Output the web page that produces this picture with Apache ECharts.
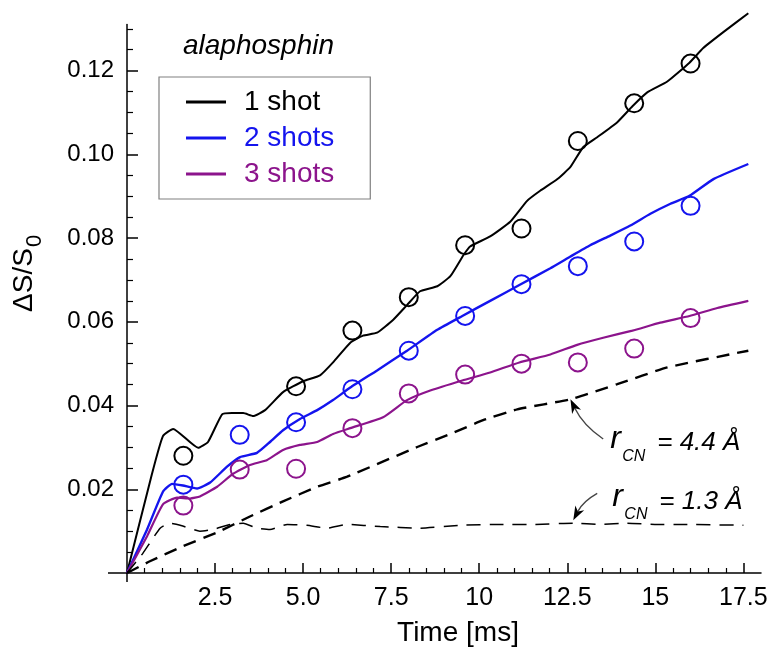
<!DOCTYPE html>
<html><head><meta charset="utf-8">
<script src="https://cdn.jsdelivr.net/npm/echarts@6/dist/echarts.min.js"></script>
<style>html,body{margin:0;padding:0;background:#fff}#c{width:771px;height:652px}</style>
</head><body><div id="c"></div>
<script>
// ---------------- data ----------------
const shotTimes = [1.6, 3.2, 4.8, 6.4, 8.0, 9.6, 11.2, 12.8, 14.4, 16.0];
const shot1Pts = [0.0280, null, 0.0446, 0.0579, 0.0659, 0.0783, 0.0823, 0.1032, 0.1122, 0.1217];
const shot2Pts = [0.0211, 0.0330, 0.0360, 0.0439, 0.0531, 0.0614, 0.0690, 0.0733, 0.0792, 0.0877];
const shot3Pts = [0.0161, 0.0247, 0.0249, 0.0346, 0.0429, 0.0474, 0.0500, 0.0503, 0.0536, 0.0609];

const fit1T = [0, 0.71, 1.02, 1.31, 2.02, 2.30, 2.70, 2.98, 3.30, 3.58, 3.92, 4.43, 5.0, 5.48, 5.85, 6.34, 6.70, 7.10, 7.56, 7.95, 8.32, 8.81, 9.18, 9.55, 9.74, 10.31, 10.88, 11.36, 11.73, 12.22, 12.59, 12.95, 13.35, 13.92, 14.35, 14.77, 15.34, 15.97, 16.36, 16.93, 17.64];
const fit1V = [0, 0.0237, 0.0327, 0.0344, 0.0299, 0.0313, 0.0379, 0.0382, 0.0382, 0.0375, 0.0389, 0.0432, 0.0458, 0.0472, 0.0503, 0.0550, 0.0567, 0.0574, 0.0605, 0.0640, 0.0673, 0.0685, 0.0709, 0.0759, 0.0780, 0.0804, 0.0839, 0.0889, 0.0913, 0.0941, 0.0970, 0.1017, 0.1041, 0.1077, 0.1115, 0.1148, 0.1174, 0.1219, 0.1254, 0.1292, 0.1337];

const fit2T = [0, 0.57, 1.02, 1.28, 1.59, 1.99, 2.36, 2.84, 3.21, 3.69, 4.06, 4.43, 4.91, 5.40, 5.85, 6.34, 7.10, 7.95, 8.81, 9.52, 10.31, 11.14, 12.02, 12.59, 13.15, 13.72, 14.29, 14.86, 15.43, 15.97, 16.65, 17.64];
const fit2V = [0, 0.0104, 0.0194, 0.0213, 0.0209, 0.0202, 0.0216, 0.0254, 0.0277, 0.0287, 0.0313, 0.0341, 0.0368, 0.0389, 0.0413, 0.0443, 0.0484, 0.0531, 0.0581, 0.0614, 0.0650, 0.0688, 0.0728, 0.0756, 0.0783, 0.0806, 0.0830, 0.0858, 0.0882, 0.0901, 0.0941, 0.0977];

const fit3T = [0, 0.57, 1.02, 1.42, 1.79, 2.07, 2.56, 3.01, 3.49, 3.98, 4.43, 4.91, 5.40, 5.85, 6.34, 7.27, 7.95, 8.61, 9.52, 10.31, 11.14, 12.02, 12.78, 13.52, 14.35, 15.14, 15.97, 16.76, 17.64];
const fit3V = [0, 0.0088, 0.0164, 0.0180, 0.0178, 0.0183, 0.0206, 0.0237, 0.0258, 0.0270, 0.0294, 0.0306, 0.0313, 0.0332, 0.0346, 0.0372, 0.0413, 0.0436, 0.0460, 0.0479, 0.0503, 0.0522, 0.0545, 0.0562, 0.0579, 0.0598, 0.0614, 0.0633, 0.0650];

const r44T = [0, 0.65, 1.59, 2.56, 3.49, 4.43, 5.40, 6.25, 8.24, 9.18, 10.11, 11.08, 12.59, 13.92, 15.34, 17.64];
const r44V = [0, 0.0028, 0.0064, 0.0097, 0.0135, 0.0171, 0.0206, 0.0230, 0.0301, 0.0332, 0.0365, 0.0391, 0.0415, 0.0451, 0.0491, 0.0531];

const r13T = [0, 0.45, 0.94, 1.22, 1.51, 2.07, 2.44, 2.93, 3.30, 3.69, 4.06, 4.55, 5.11, 5.68, 6.25, 7.19, 8.32, 9.46, 10.6, 11.53, 12.67, 13.44, 14.2, 15.06, 15.9, 17.5];
const r13V = [0, 0.0047, 0.0107, 0.0119, 0.0114, 0.0100, 0.0104, 0.0116, 0.0119, 0.0107, 0.0104, 0.0116, 0.0114, 0.0107, 0.0116, 0.0111, 0.0107, 0.0114, 0.0116, 0.0116, 0.0119, 0.0116, 0.0119, 0.0116, 0.0116, 0.0114];

const seriesNames = ['1 shot', '2 shots', '3 shots'];
const xTickVals = [2.5, 5, 7.5, 10, 12.5, 15, 17.5];
const xTickLabels = ['2.5', '5.0', '7.5', '10', '12.5', '15', '17.5'];
const yTickVals = [0.02, 0.04, 0.06, 0.08, 0.10, 0.12];
const yTickLabels = ['0.02', '0.04', '0.06', '0.08', '0.10', '0.12'];

// annotation anchors (data coordinates)
const ann44 = { text: '= 4.4 Å', anchor: [13.72, 0.0294], tail: [13.52, 0.0320], ctrl: [12.95, 0.0353], tip: [12.59, 0.0415] };
const ann13 = { text: '= 1.3 Å', anchor: [13.78, 0.0154], tail: [13.35, 0.0190], ctrl: [12.95, 0.0171], tip: [12.67, 0.0126] };

// ---------------- chart ----------------
const FONT = '"Liberation Sans", Arial, Helvetica, sans-serif';
const C1 = '#000000', C2 = '#1414ee', C3 = '#8c148c';
const zip = (t, v) => t.map((x, i) => [x, v[i]]);
const pts = (v) => shotTimes.map((t, i) => [t, v[i]]).filter(p => p[1] !== null);

const chart = echarts.init(document.getElementById('c'), null, { renderer: 'canvas' });

const lineSeries = (name, t, v, color, width, type) => ({
  name, type: 'line', data: zip(t, v), symbol: 'none', clip: false, smooth: 0.15,
  lineStyle: { color, width, type: type || 'solid', opacity: 1 }, itemStyle: { color }, z: 2, silent: true
});
const scatterSeries = (name, v, color) => ({
  name, type: 'scatter', data: pts(v), symbol: 'circle', symbolSize: 18,
  itemStyle: { color: 'rgba(0,0,0,0)', borderColor: color, borderWidth: 2, opacity: 1 },
  emphasis: { disabled: true }, z: 3, silent: true
});

chart.setOption({
  animation: false,
  textStyle: { fontFamily: FONT },
  grid: { left: 127, right: 10, top: 24.6, bottom: 75 },
  legend: {
    left: 159, top: 77, orient: 'vertical',
    data: [
      { name: seriesNames[0], textStyle: { color: C1 } },
      { name: seriesNames[1], textStyle: { color: C2 } },
      { name: seriesNames[2], textStyle: { color: C3 } }
    ],
    icon: 'rect', itemWidth: 40, itemHeight: 3, itemGap: 8,
    padding: [11, 36, 11, 27],
    borderColor: '#808080', borderWidth: 1.2,
    textStyle: { fontSize: 28, lineHeight: 28, fontFamily: FONT, padding: [0, 0, 0, 13] },
    selectedMode: false
  },
  xAxis: {
    type: 'value', min: 0, max: 18, interval: 2.5,
    axisLine: { onZero: false, lineStyle: { color: '#000', width: 1.5 } },
    axisTick: { inside: true, length: 10, customValues: xTickVals, lineStyle: { color: '#000', width: 1.5 } },
    minorTick: { show: true, splitNumber: 5, length: 5, lineStyle: { color: '#000', width: 1.2 } },
    axisLabel: {
      customValues: xTickVals, fontSize: 25, color: '#000', margin: 13, fontFamily: FONT,
      formatter: (v) => { const i = xTickVals.findIndex(x => Math.abs(x - v) < 1e-6); return i >= 0 ? xTickLabels[i] : ''; }
    },
    splitLine: { show: false },
    name: 'Time [ms]', nameLocation: 'middle', nameGap: 46,
    nameTextStyle: { fontSize: 28, color: '#000', fontFamily: FONT, padding: [0, 0, 0, 28] }
  },
  yAxis: {
    type: 'value', min: 0, max: 0.131, interval: 0.02,
    axisLine: { onZero: false, lineStyle: { color: '#000', width: 1.5 } },
    axisTick: { inside: true, length: 11, customValues: yTickVals, lineStyle: { color: '#000', width: 1.5 } },
    minorTick: { show: true, splitNumber: 4, length: 6, lineStyle: { color: '#000', width: 1.2 } },
    axisLabel: {
      customValues: yTickVals, fontSize: 24, color: '#000', margin: 13, fontFamily: FONT,
      formatter: (v) => { const i = yTickVals.findIndex(x => Math.abs(x - v) < 1e-9); return i >= 0 ? yTickLabels[i] : ''; }
    },
    splitLine: { show: false }
  },
  series: [
    lineSeries(seriesNames[0], fit1T, fit1V, C1, 2),
    lineSeries(seriesNames[1], fit2T, fit2V, C2, 2.4),
    lineSeries(seriesNames[2], fit3T, fit3V, C3, 2.2),
    lineSeries('rCN 4.4', r44T, r44V, '#000', 2.4, [13, 8]),
    lineSeries('rCN 1.3', r13T, r13V, '#000', 1.5, [14, 9]),
    scatterSeries('pts 1', shot1Pts, C1),
    scatterSeries('pts 2', shot2Pts, C2),
    scatterSeries('pts 3', shot3Pts, C3)
  ]
});

// ---------------- annotations (positions from data coords) ----------------
const px = (p) => chart.convertToPixel({ gridIndex: 0 }, p);
const txt = (x, baseline, text, size, extra) => ({
  type: 'text', silent: true,
  style: Object.assign({ x, y: baseline - 0.35 * size, text, fill: '#000', align: 'left', verticalAlign: 'middle',
    font: 'italic ' + size + 'px ' + FONT }, extra || {})
});
function arrow(a) {
  const tail = px(a.tail), ctrl = px(a.ctrl), tip = px(a.tip);
  let dx = tip[0] - ctrl[0], dy = tip[1] - ctrl[1];
  const L = Math.hypot(dx, dy); dx /= L; dy /= L;
  const nx = -dy, ny = dx, hl = 14, hw = 5;
  const base = [tip[0] - dx * hl, tip[1] - dy * hl];
  return [
    { type: 'bezierCurve', silent: true, shape: { x1: tail[0], y1: tail[1], cpx1: ctrl[0], cpy1: ctrl[1], x2: base[0] + dx * 4, y2: base[1] + dy * 4 },
      style: { stroke: '#444', lineWidth: 1.4, fill: null } },
    { type: 'polygon', silent: true, shape: { points: [tip, [base[0] + nx * hw, base[1] + ny * hw], [base[0] + dx * 4, base[1] + dy * 4], [base[0] - nx * hw, base[1] - ny * hw]] },
      style: { fill: '#000' } }
  ];
}
function label(a) {
  const p = px(a.anchor);
  return [
    txt(p[0], p[1], 'r', 32),
    txt(p[0] + 12, p[1] + 12, 'CN', 16),
    txt(p[0] + 47, p[1] + 2, a.text, 26)
  ];
}
const o = px([0, 0]);
const graphics = [
  { type: 'line', silent: true, shape: { x1: o[0] - 19, y1: o[1], x2: o[0], y2: o[1] }, style: { stroke: '#000', lineWidth: 1.5 } },
  { type: 'line', silent: true, shape: { x1: o[0], y1: o[1], x2: o[0], y2: o[1] + 9 }, style: { stroke: '#000', lineWidth: 1.5 } },
  { type: 'text', silent: true, style: { x: 183, y: 46, text: 'alaphosphin', font: 'italic 28px ' + FONT, fill: '#000', align: 'left', verticalAlign: 'middle' } },
  { type: 'group', x: 24, y: 280, rotation: Math.PI / 2, silent: true, children: [
    { type: 'text', style: { x: 0, y: 0, text: 'ΔS/S', font: '28px ' + FONT, fill: '#000', align: 'center', verticalAlign: 'middle' } },
    { type: 'text', style: { x: 33, y: 11, text: '0', font: '22px ' + FONT, fill: '#000', align: 'left', verticalAlign: 'middle' } }
  ] }
].concat(arrow(ann44), arrow(ann13), label(ann44), label(ann13));

chart.setOption({ graphic: graphics });
</script></body></html>
